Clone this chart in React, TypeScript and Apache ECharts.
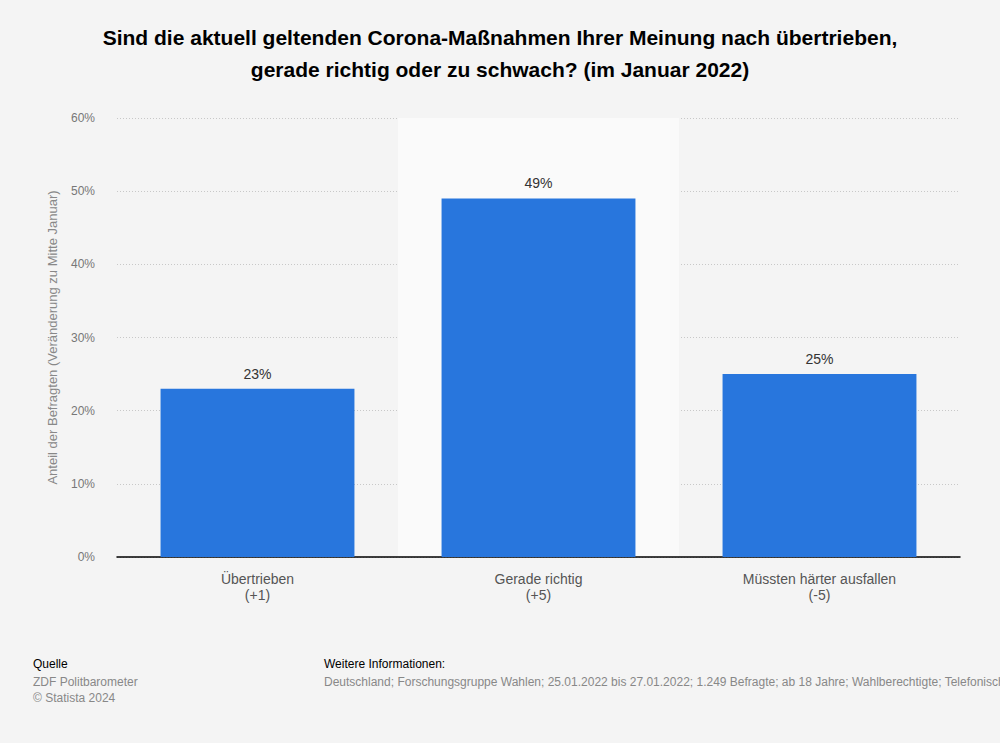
import React, { useEffect, useRef } from "react";
import * as echarts from "echarts";

const categories = ["Übertrieben\n(+1)", "Gerade richtig\n(+5)", "Müssten härter ausfallen\n(-5)"];
const values = [23, 49, 25];
const yTicks = [0, 10, 20, 30, 40, 50, 60];
const titleText = "Sind die aktuell geltenden Corona-Maßnahmen Ihrer Meinung nach übertrieben,\ngerade richtig oder zu schwach? (im Januar 2022)";
const yAxisName = "Anteil der Befragten (Veränderung zu Mitte Januar)";
const sourceLines = ["ZDF Politbarometer", "© Statista 2024"];
const infoLine = "Deutschland; Forschungsgruppe Wahlen; 25.01.2022 bis 27.01.2022; 1.249 Befragte; ab 18 Jahre; Wahlberechtigte; Telefonische Befragung";

export default function App() {
  const ref = useRef<HTMLDivElement>(null);
  useEffect(() => {
    if (!ref.current) return;
    const chart = echarts.init(ref.current, null, { renderer: "svg" });
    const font = "'Liberation Sans', Arial, sans-serif";
    chart.setOption({
      animation: false,
      backgroundColor: "#f4f4f4",
      textStyle: { fontFamily: font },
      title: {
        text: titleText,
        left: "center",
        top: 16,
        textStyle: { fontSize: 21, fontWeight: "bold", color: "#000", lineHeight: 32, fontFamily: font },
      },
      grid: { left: 117, right: 40, top: 118, bottom: 186 },
      xAxis: {
        type: "category",
        data: categories,
        axisLine: { lineStyle: { color: "#000", width: 1.5 } },
        axisTick: { show: false },
        axisLabel: { fontSize: 14, color: "#555", lineHeight: 16, margin: 14 },
        splitArea: { show: true, areaStyle: { color: ["rgba(0,0,0,0)", "#fafafa"] } },
      },
      yAxis: {
        type: "value",
        min: yTicks[0],
        max: yTicks[yTicks.length - 1],
        interval: 10,
        name: yAxisName,
        nameLocation: "middle",
        nameGap: 58,
        nameTextStyle: { fontSize: 13, color: "#888" },
        axisLine: { show: false },
        axisTick: { show: false },
        axisLabel: { formatter: "{value}%", fontSize: 12, color: "#777", margin: 22 },
        splitLine: { lineStyle: { color: "#c8c8c8", type: [1, 2] } },
      },
      series: [
        {
          type: "bar",
          data: values,
          barWidth: "69%",
          itemStyle: { color: "#2876dd" },
          label: { show: true, position: "top", formatter: "{c}%", fontSize: 14, color: "#333", distance: 8 },
        },
      ],
      graphic: [
        { type: "text", left: 33, top: 658, style: { text: "Quelle", fontSize: 12, fill: "#000", fontFamily: font } },
        { type: "text", left: 33, top: 674, style: { text: sourceLines.join("\n"), fontSize: 12, lineHeight: 16, fill: "#888", fontFamily: font } },
        { type: "text", left: 324, top: 658, style: { text: "Weitere Informationen:", fontSize: 12, fill: "#000", fontFamily: font } },
        { type: "text", x: 324, y: 674, style: { text: infoLine, fontSize: 12, lineHeight: 16, fill: "#888", fontFamily: font } },
      ],
    });
    return () => chart.dispose();
  }, []);
  return <div ref={ref} style={{ position: "fixed", left: 0, top: 0, width: 1000, height: 743 }} />;
}
